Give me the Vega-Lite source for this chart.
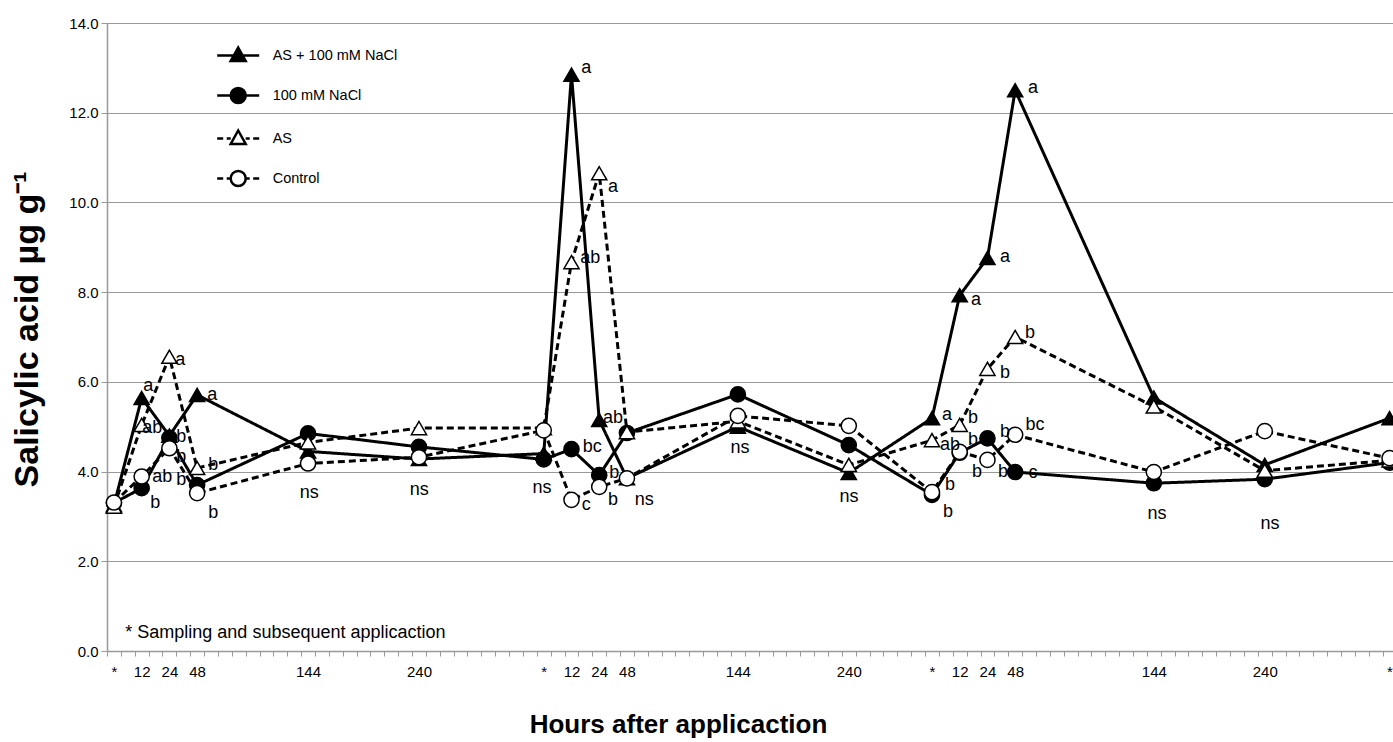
{
  "$schema": "https://vega.github.io/schema/vega-lite/v6.json",
  "width": 1286,
  "height": 628,
  "autosize": {"type": "none"},
  "padding": {"left": 107, "top": 23, "right": 0, "bottom": 91},
  "background": "white",
  "config": {"view": {"stroke": null}, "font": "Liberation Sans, Arial, sans-serif"},
  "datasets": {
    "series": [
      {"series": "AS + 100 mM NaCl", "x": 0, "y": 3.25}, {"series": "AS + 100 mM NaCl", "x": 2, "y": 5.64}, {"series": "AS + 100 mM NaCl", "x": 4, "y": 4.8}, {"series": "AS + 100 mM NaCl", "x": 6, "y": 5.71}, {"series": "AS + 100 mM NaCl", "x": 14, "y": 4.45}, {"series": "AS + 100 mM NaCl", "x": 22, "y": 4.28}, {"series": "AS + 100 mM NaCl", "x": 31, "y": 4.4}, {"series": "AS + 100 mM NaCl", "x": 33, "y": 12.85}, {"series": "AS + 100 mM NaCl", "x": 35, "y": 5.15}, {"series": "AS + 100 mM NaCl", "x": 37, "y": 3.85}, {"series": "AS + 100 mM NaCl", "x": 45, "y": 5.0}, {"series": "AS + 100 mM NaCl", "x": 53, "y": 3.97}, {"series": "AS + 100 mM NaCl", "x": 59, "y": 5.19}, {"series": "AS + 100 mM NaCl", "x": 61, "y": 7.93}, {"series": "AS + 100 mM NaCl", "x": 63, "y": 8.76}, {"series": "AS + 100 mM NaCl", "x": 65, "y": 12.5}, {"series": "AS + 100 mM NaCl", "x": 75, "y": 5.65}, {"series": "AS + 100 mM NaCl", "x": 83, "y": 4.15}, {"series": "AS + 100 mM NaCl", "x": 92, "y": 5.19},
      {"series": "100 mM NaCl", "x": 0, "y": 3.3}, {"series": "100 mM NaCl", "x": 2, "y": 3.63}, {"series": "100 mM NaCl", "x": 4, "y": 4.75}, {"series": "100 mM NaCl", "x": 6, "y": 3.7}, {"series": "100 mM NaCl", "x": 14, "y": 4.85}, {"series": "100 mM NaCl", "x": 22, "y": 4.55}, {"series": "100 mM NaCl", "x": 31, "y": 4.27}, {"series": "100 mM NaCl", "x": 33, "y": 4.5}, {"series": "100 mM NaCl", "x": 35, "y": 3.92}, {"series": "100 mM NaCl", "x": 37, "y": 4.86}, {"series": "100 mM NaCl", "x": 45, "y": 5.72}, {"series": "100 mM NaCl", "x": 53, "y": 4.59}, {"series": "100 mM NaCl", "x": 59, "y": 3.48}, {"series": "100 mM NaCl", "x": 61, "y": 4.42}, {"series": "100 mM NaCl", "x": 63, "y": 4.74}, {"series": "100 mM NaCl", "x": 65, "y": 3.99}, {"series": "100 mM NaCl", "x": 75, "y": 3.74}, {"series": "100 mM NaCl", "x": 83, "y": 3.83}, {"series": "100 mM NaCl", "x": 92, "y": 4.2},
      {"series": "AS", "x": 0, "y": 3.22}, {"series": "AS", "x": 2, "y": 5.04}, {"series": "AS", "x": 4, "y": 6.56}, {"series": "AS", "x": 6, "y": 4.08}, {"series": "AS", "x": 14, "y": 4.65}, {"series": "AS", "x": 22, "y": 4.97}, {"series": "AS", "x": 31, "y": 4.97}, {"series": "AS", "x": 33, "y": 8.67}, {"series": "AS", "x": 35, "y": 10.65}, {"series": "AS", "x": 37, "y": 4.88}, {"series": "AS", "x": 45, "y": 5.12}, {"series": "AS", "x": 53, "y": 4.15}, {"series": "AS", "x": 59, "y": 4.7}, {"series": "AS", "x": 61, "y": 5.04}, {"series": "AS", "x": 63, "y": 6.29}, {"series": "AS", "x": 65, "y": 7.0}, {"series": "AS", "x": 75, "y": 5.45}, {"series": "AS", "x": 83, "y": 4.02}, {"series": "AS", "x": 92, "y": 4.25},
      {"series": "Control", "x": 0, "y": 3.31}, {"series": "Control", "x": 2, "y": 3.89}, {"series": "Control", "x": 4, "y": 4.52}, {"series": "Control", "x": 6, "y": 3.52}, {"series": "Control", "x": 14, "y": 4.18}, {"series": "Control", "x": 22, "y": 4.32}, {"series": "Control", "x": 31, "y": 4.92}, {"series": "Control", "x": 33, "y": 3.37}, {"series": "Control", "x": 35, "y": 3.66}, {"series": "Control", "x": 37, "y": 3.85}, {"series": "Control", "x": 45, "y": 5.24}, {"series": "Control", "x": 53, "y": 5.02}, {"series": "Control", "x": 59, "y": 3.54}, {"series": "Control", "x": 61, "y": 4.44}, {"series": "Control", "x": 63, "y": 4.26}, {"series": "Control", "x": 65, "y": 4.82}, {"series": "Control", "x": 75, "y": 3.99}, {"series": "Control", "x": 83, "y": 4.9}, {"series": "Control", "x": 92, "y": 4.3}
    ],
    "legendItems": [{"name": "AS + 100 mM NaCl"}, {"name": "100 mM NaCl"}, {"name": "AS"}, {"name": "Control"}],
    "labels": [
      {"x": 2.48, "y": 5.91, "t": "a"}, {"x": 2.77, "y": 4.97, "t": "ab"}, {"x": 4.78, "y": 6.49, "t": "a"}, {"x": 3.49, "y": 3.88, "t": "ab"}, {"x": 2.98, "y": 3.3, "t": "b"}, {"x": 4.86, "y": 4.77, "t": "b"}, {"x": 4.86, "y": 4.32, "t": "b"}, {"x": 4.86, "y": 3.81, "t": "b"}, {"x": 7.16, "y": 4.15, "t": "b"}, {"x": 7.16, "y": 3.08, "t": "b"}, {"x": 7.09, "y": 5.71, "t": "a"}, {"x": 14.09, "y": 3.52, "t": "ns"}, {"x": 22.02, "y": 3.59, "t": "ns"},
      {"x": 30.88, "y": 3.63, "t": "ns"}, {"x": 34.06, "y": 13.0, "t": "a"}, {"x": 34.35, "y": 8.76, "t": "ab"}, {"x": 34.49, "y": 4.55, "t": "bc"}, {"x": 34.06, "y": 3.25, "t": "c"}, {"x": 36.0, "y": 10.34, "t": "a"}, {"x": 36.0, "y": 5.19, "t": "ab"}, {"x": 36.08, "y": 3.97, "t": "b"}, {"x": 36.0, "y": 3.37, "t": "b"}, {"x": 38.24, "y": 3.37, "t": "ns"}, {"x": 45.16, "y": 4.53, "t": "ns"}, {"x": 53.02, "y": 3.43, "t": "ns"},
      {"x": 60.08, "y": 5.26, "t": "a"}, {"x": 60.3, "y": 4.59, "t": "ab"}, {"x": 60.3, "y": 3.7, "t": "b"}, {"x": 60.16, "y": 3.1, "t": "b"}, {"x": 62.18, "y": 7.82, "t": "a"}, {"x": 61.96, "y": 5.19, "t": "b"}, {"x": 61.96, "y": 4.7, "t": "b"}, {"x": 62.25, "y": 3.99, "t": "b"}, {"x": 64.27, "y": 8.78, "t": "a"}, {"x": 64.27, "y": 6.2, "t": "b"}, {"x": 64.27, "y": 4.88, "t": "b"}, {"x": 64.12, "y": 3.99, "t": "b"}, {"x": 66.28, "y": 12.55, "t": "a"}, {"x": 66.07, "y": 7.09, "t": "b"}, {"x": 66.43, "y": 5.04, "t": "bc"}, {"x": 66.28, "y": 3.97, "t": "c"}, {"x": 75.22, "y": 3.05, "t": "ns"}, {"x": 83.37, "y": 2.83, "t": "ns"}
    ],
    "notes": [{"x": 0.82, "y": 0.4, "t": "* Sampling and subsequent applicaction"}]
  },
  "layer": [
    {
      "data": {"name": "series"},
      "mark": {"type": "line", "color": "black", "strokeWidth": 3},
      "encoding": {
        "x": {"field": "x", "type": "quantitative", "scale": {"domain": [-0.5, 92.25], "nice": false, "zero": false},
          "axis": {
            "values": [-0.5,0.5,1.5,2.5,3.5,4.5,5.5,6.5,7.5,8.5,9.5,10.5,11.5,12.5,13.5,14.5,15.5,16.5,17.5,18.5,19.5,20.5,21.5,22.5,23.5,24.5,25.5,26.5,27.5,28.5,29.5,30.5,31.5,32.5,33.5,34.5,35.5,36.5,37.5,38.5,39.5,40.5,41.5,42.5,43.5,44.5,45.5,46.5,47.5,48.5,49.5,50.5,51.5,52.5,53.5,54.5,55.5,56.5,57.5,58.5,59.5,60.5,61.5,62.5,63.5,64.5,65.5,66.5,67.5,68.5,69.5,70.5,71.5,72.5,73.5,74.5,75.5,76.5,77.5,78.5,79.5,80.5,81.5,82.5,83.5,84.5,85.5,86.5,87.5,88.5,89.5,90.5,91.5],
            "tickCount": 500,
            "labelExpr": "indexof([0,2,4,6,14,22,31,33,35,37,45,53,59,61,63,65,75,83,92], datum.value + 0.5) < 0 ? '' : ['*','12','24','48','144','240','*','12','24','48','144','240','*','12','24','48','144','240','*'][indexof([0,2,4,6,14,22,31,33,35,37,45,53,59,61,63,65,75,83,92], datum.value + 0.5)]",
            "labelOffset": 6.93,
            "labelAlign": "center",
            "labelBaseline": "top",
            "labelOverlap": false,
            "labelBound": false,
            "labelFlush": false,
            "labelFont": "Liberation Sans, Arial, sans-serif",
            "labelFontSize": 15,
            "labelColor": "black",
            "labelPadding": 8,
            "tickSize": 5,
            "tickColor": "#999999",
            "domainColor": "#999999",
            "domainWidth": 1.5,
            "grid": false,
            "title": "Hours after applicaction",
            "titleFont": "Liberation Sans, Arial, sans-serif",
            "titleFontWeight": "bold",
            "titleFontSize": 26,
            "titleColor": "black",
            "titleX": 571,
            "titleY": 81,
            "titleAlign": "center",
            "titleBaseline": "alphabetic"
          }},
        "y": {"field": "y", "type": "quantitative", "scale": {"domain": [0, 14], "nice": false},
          "axis": {
            "values": [0, 2, 4, 6, 8, 10, 12, 14],
            "format": ".1f",
            "grid": true,
            "gridColor": "#999999",
            "gridWidth": 1,
            "domainColor": "#999999",
            "domainWidth": 1.5,
            "tickColor": "#999999",
            "tickSize": 6,
            "labelFont": "Liberation Sans, Arial, sans-serif",
            "labelFontSize": 15,
            "labelColor": "black",
            "labelPadding": 3,
            "title": "Salicylic acid µg g⁻¹",
            "titleFont": "Liberation Sans, Arial, sans-serif",
            "titleFontWeight": "bold",
            "titleFontSize": 34,
            "titleColor": "black",
            "titleX": -70,
            "titleY": 306,
            "titleAngle": -90,
            "titleAlign": "center",
            "titleBaseline": "alphabetic"
          }},
        "strokeDash": {"field": "series", "type": "nominal",
          "scale": {"domain": ["AS + 100 mM NaCl", "100 mM NaCl", "AS", "Control"], "range": [[1, 0], [1, 0], [7, 4], [7, 4]]},
          "legend": null}
      }
    },
    {
      "data": {"name": "series"},
      "transform": [{"filter": "datum.series == 'AS + 100 mM NaCl'"}],
      "mark": {"type": "point", "shape": "triangle-up", "filled": true, "fill": "black", "stroke": "black", "strokeWidth": 1.5, "size": 230, "opacity": 1},
      "encoding": {"x": {"field": "x", "type": "quantitative"}, "y": {"field": "y", "type": "quantitative"}}
    },
    {
      "data": {"name": "series"},
      "transform": [{"filter": "datum.series == '100 mM NaCl'"}],
      "mark": {"type": "point", "shape": "circle", "filled": true, "fill": "black", "stroke": "black", "strokeWidth": 1.5, "size": 230, "opacity": 1},
      "encoding": {"x": {"field": "x", "type": "quantitative"}, "y": {"field": "y", "type": "quantitative"}}
    },
    {
      "data": {"name": "series"},
      "transform": [{"filter": "datum.series == 'AS'"}],
      "mark": {"type": "point", "shape": "triangle-up", "filled": true, "fill": "white", "stroke": "black", "strokeWidth": 1.5, "size": 230, "opacity": 1},
      "encoding": {"x": {"field": "x", "type": "quantitative"}, "y": {"field": "y", "type": "quantitative"}}
    },
    {
      "data": {"name": "series"},
      "transform": [{"filter": "datum.series == 'Control'"}],
      "mark": {"type": "point", "shape": "circle", "filled": true, "fill": "white", "stroke": "black", "strokeWidth": 1.5, "size": 230, "opacity": 1},
      "encoding": {"x": {"field": "x", "type": "quantitative"}, "y": {"field": "y", "type": "quantitative"}}
    },
    {
      "data": {"name": "legendItems"},
      "transform": [{"filter": "false"}],
      "mark": {"type": "point", "filled": true, "strokeWidth": 2.5},
      "encoding": {
        "shape": {"field": "name", "type": "nominal",
          "scale": {"domain": ["AS + 100 mM NaCl", "100 mM NaCl", "AS", "Control"],
            "range": [
              "M-2.1,0H2.1M0,-0.8L0.75,0.55L-0.75,0.55Z",
              "M-2.1,0H2.1M0.75,0A0.75,0.75,0,1,1,-0.75,0A0.75,0.75,0,1,1,0.75,0Z",
              "M-2.1,0H-1.5M-1.15,0H-0.75M0.75,0H1.15M1.5,0H2.1M0,-0.8L0.75,0.55L-0.75,0.55Z",
              "M-2.1,0H-1.5M-1.15,0H-0.75M0.75,0H1.15M1.5,0H2.1M0.75,0A0.75,0.75,0,1,1,-0.75,0A0.75,0.75,0,1,1,0.75,0Z"
            ]},
          "legend": {"orient": "none", "legendX": 119.7, "legendY": 21, "title": null, "symbolSize": 400, "symbolStrokeWidth": 2.5, "symbolOpacity": 1, "labelFont": "Liberation Sans, Arial, sans-serif", "labelFontSize": 14.5, "labelColor": "black", "labelOffset": 23, "rowPadding": 17, "padding": 0}},
        "fill": {"field": "name", "type": "nominal",
          "scale": {"domain": ["AS + 100 mM NaCl", "100 mM NaCl", "AS", "Control"], "range": ["black", "black", "white", "white"]},
          "legend": {"orient": "none", "legendX": 119.7, "legendY": 21, "title": null, "symbolSize": 400, "symbolStrokeWidth": 2.5, "symbolOpacity": 1, "labelFont": "Liberation Sans, Arial, sans-serif", "labelFontSize": 14.5, "labelColor": "black", "labelOffset": 23, "rowPadding": 17, "padding": 0}},
        "stroke": {"field": "name", "type": "nominal",
          "scale": {"domain": ["AS + 100 mM NaCl", "100 mM NaCl", "AS", "Control"], "range": ["black", "black", "black", "black"]},
          "legend": {"orient": "none", "legendX": 119.7, "legendY": 21, "title": null, "symbolSize": 400, "symbolStrokeWidth": 2.5, "symbolOpacity": 1, "labelFont": "Liberation Sans, Arial, sans-serif", "labelFontSize": 14.5, "labelColor": "black", "labelOffset": 23, "rowPadding": 17, "padding": 0}}
      }
    },
    {
      "data": {"name": "labels"},
      "mark": {"type": "text", "font": "Liberation Sans, Arial, sans-serif", "fontSize": 18, "align": "center", "baseline": "middle", "color": "black"},
      "encoding": {
        "x": {"field": "x", "type": "quantitative"},
        "y": {"field": "y", "type": "quantitative"},
        "text": {"field": "t"}
      }
    },
    {
      "data": {"name": "notes"},
      "mark": {"type": "text", "font": "Liberation Sans, Arial, sans-serif", "fontSize": 18, "align": "left", "baseline": "middle", "color": "black"},
      "encoding": {
        "x": {"field": "x", "type": "quantitative"},
        "y": {"field": "y", "type": "quantitative"},
        "text": {"field": "t"}
      }
    }
  ],
  "resolve": {"scale": {"shape": "independent", "fill": "independent", "stroke": "independent"}}
}
